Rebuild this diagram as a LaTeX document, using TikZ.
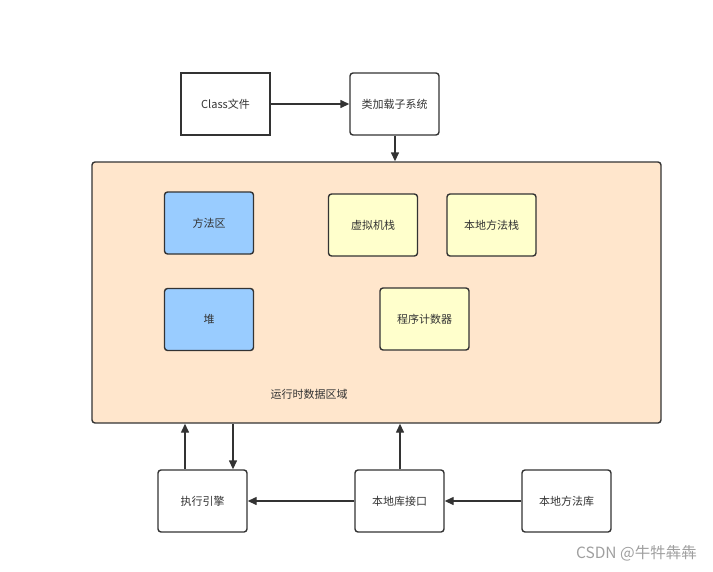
\documentclass[tikz,border=0pt]{standalone}
\usepackage{fontspec}
\setmainfont{Noto Sans CJK SC}
\usetikzlibrary{arrows.meta}
\definecolor{peach}{HTML}{FFE6CC}
\definecolor{blueb}{HTML}{99CCFF}
\definecolor{yelb}{HTML}{FFFFCC}
\definecolor{edge}{HTML}{333333}
\begin{document}
\begin{tikzpicture}[x=1pt,y=-1pt,
  box/.style={draw=edge,line width=1.4pt,minimum width=89pt,minimum height=62pt,inner sep=0pt,font=\fontsize{11}{13}\selectfont,text=edge},
  rbox/.style={box,rounded corners=3pt},
  arr/.style={draw=edge,line width=1.4pt,-{Triangle[length=9pt,width=8pt]}}]
\useasboundingbox (0,0) rectangle (713,571);
\node[box] (cls) at (225.5,104) {Class文件};
\node[rbox] (ldr) at (394.5,104) {类加载子系统};
\node[draw=edge,line width=1.4pt,fill=peach,rounded corners=3pt,minimum width=569pt,minimum height=261pt,inner sep=0pt] (rt) at (376.5,292.5) {};
\node[rbox,fill=blueb] (mth) at (209,223) {方法区};
\node[rbox,fill=blueb] (heap) at (209,319.5) {堆};
\node[rbox,fill=yelb] (vms) at (373,225) {虚拟机栈};
\node[rbox,fill=yelb] (nms) at (491.5,225) {本地方法栈};
\node[rbox,fill=yelb] (pc) at (424.5,319) {程序计数器};
\node[font=\fontsize{11}{13}\selectfont,text=edge] (rtl) at (309,394) {运行时数据区域};
\node[rbox] (exe) at (202.5,501) {执行引擎};
\node[rbox] (nif) at (399.5,501) {本地库接口};
\node[rbox] (nlib) at (566.5,501) {本地方法库};
\node[font=\fontsize{15.5}{18}\selectfont,text=gray!75,anchor=east,inner sep=0pt] (wm) at (697,553) {CSDN @牛牪犇犇};
\draw[arr] (cls) -- (ldr);
\draw[arr] (ldr.south -| 395,0) -- (rt.north -| 395,0);
\draw[arr] (exe.north -| 185,0) -- (rt.south -| 185,0);
\draw[arr] (rt.south -| 233,0) -- (exe.north -| 233,0);
\draw[arr] (nif.north -| 400,0) -- (rt.south -| 400,0);
\draw[arr] (nlib) -- (nif);
\draw[arr] (nif) -- (exe);
\end{tikzpicture}
\end{document}
